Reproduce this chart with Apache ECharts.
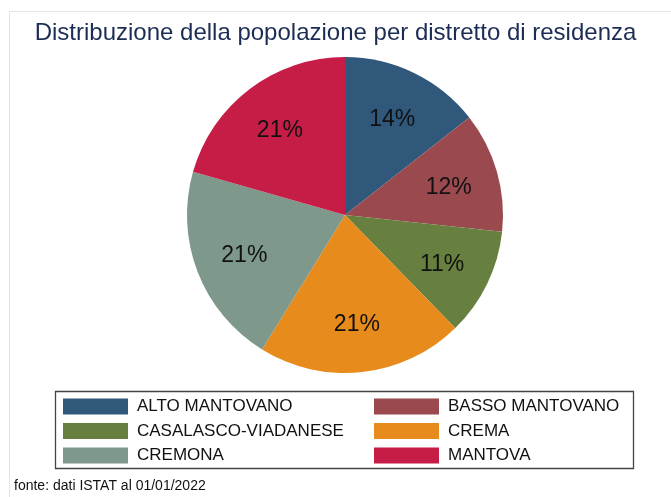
<!DOCTYPE html>
<html><head><meta charset="utf-8">
<script src="https://cdn.jsdelivr.net/npm/echarts@6/dist/echarts.min.js"></script>
<style>html,body{margin:0;padding:0;background:#fff}#c{width:671px;height:497px}</style>
</head><body><div id="c"></div>
<script>
const categories = ['ALTO MANTOVANO','BASSO MANTOVANO','CASALASCO-VIADANESE','CREMA','CREMONA','MANTOVA'];
const values = [14.4, 12.3, 11.0, 21.1, 20.6, 20.6];
const colors = ['#30587b','#9a4a4f','#67803f','#e68b1c','#7e988c','#c61d46'];
const titleText = 'Distribuzione della popolazione per distretto di residenza';
const noteText = 'fonte: dati ISTAT al 01/01/2022';

const total = values.reduce((a,b)=>a+b,0);
const data = categories.map((n,i)=>({name:n, value:values[i], itemStyle:{color:colors[i]}}));
const font = '"Liberation Sans", Arial, sans-serif';

const chart = echarts.init(document.getElementById('c'), null, {renderer:'canvas'});
chart.setOption({
  animation:false,
  backgroundColor:'#fff',
  title:{text:titleText, left:'center', top:21, padding:0, textStyle:{fontFamily:font, fontSize:24, fontWeight:'normal', color:'#1c2d55'}},
  graphic:[
    {type:'line', shape:{x1:9.5,y1:11.5,x2:671,y2:11.5}, style:{stroke:'#e4e4e4', lineWidth:1}},
    {type:'line', shape:{x1:9.5,y1:11.5,x2:9.5,y2:497}, style:{stroke:'#e4e4e4', lineWidth:1}},
    {type:'rect', shape:{x:55.5,y:391.5,width:578,height:77}, style:{fill:'none', stroke:'#444', lineWidth:1.3}},
    {type:'text', left:14, top:479, style:{text:noteText, font:'14px '+font, fill:'#111'}}
  ],
  legend:[
    {orient:'vertical', left:63, top:398, padding:0, itemWidth:65, itemHeight:16, itemGap:7.5, icon:'rect',
     data:[categories[0],categories[2],categories[4]],
     textStyle:{fontFamily:font, fontSize:17, color:'#111', padding:[0,0,0,4]}},
    {orient:'vertical', left:374, top:398, padding:0, itemWidth:65, itemHeight:16, itemGap:7.5, icon:'rect',
     data:[categories[1],categories[3],categories[5]],
     textStyle:{fontFamily:font, fontSize:17, color:'#111', padding:[0,0,0,4]}}
  ],
  series:[
    {type:'pie', center:[345,215], radius:[0,158], startAngle:90, clockwise:true, data:data,
     label:{show:false}, labelLine:{show:false}, itemStyle:{borderWidth:0}, emphasis:{disabled:true}},
    {type:'pie', center:[345,217], radius:[52,158], startAngle:90, clockwise:true, silent:true,
     data:categories.map((n,i)=>({name:n, value:values[i], itemStyle:{color:'rgba(0,0,0,0)'}})),
     legendHoverLink:false,
     label:{show:true, position:'inside', formatter:p=>Math.round(p.value/total*100)+'%',
            fontFamily:font, fontSize:23, color:'#111'},
     labelLine:{show:false}, itemStyle:{borderWidth:0}, emphasis:{disabled:true}}
  ]
});
</script></body></html>
